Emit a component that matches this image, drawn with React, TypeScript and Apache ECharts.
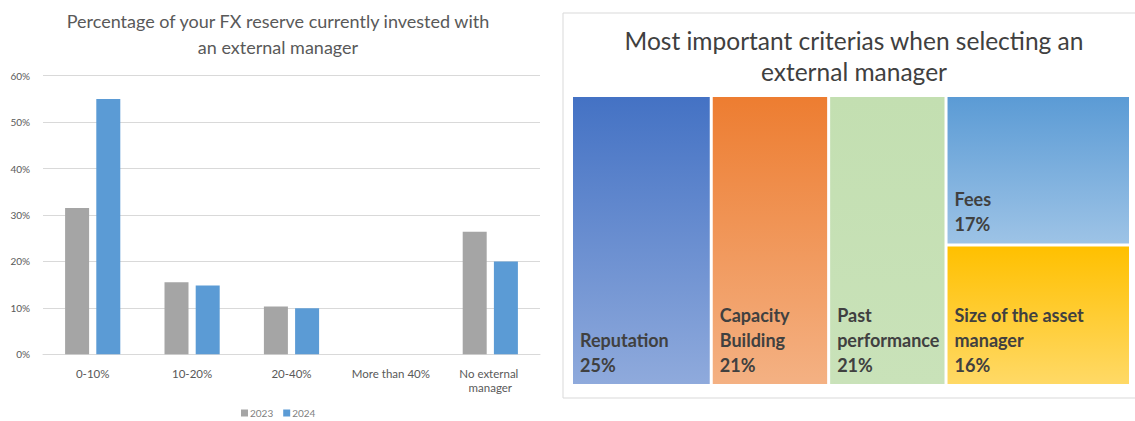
import React, { useEffect, useRef } from "react";
import * as echarts from "echarts";

const barCategories = ["0-10%", "10-20%", "20-40%", "More than 40%", "No external manager"];
const values2023 = [31.5, 15.5, 10.3, 0, 26.4];
const values2024 = [55, 14.8, 9.9, 0, 20];
const yTicks = [0, 10, 20, 30, 40, 50, 60];

const criteriaNames = ["Reputation", "Capacity Building", "Past performance", "Fees", "Size of the asset manager"];
const criteriaValues = [25, 21, 21, 17, 16];
const criteriaColors: [string, string][] = [
  ["#4472C4", "#8FAADC"],
  ["#ED7D31", "#F4B183"],
  ["#C3DFB1", "#C9E2B9"],
  ["#5B9BD5", "#9DC3E6"],
  ["#FFC000", "#FFD966"],
];

const FONT = "Lato, 'Open Sans', sans-serif";

export default function App() {
  const ref = useRef<HTMLDivElement>(null);
  useEffect(() => {
    if (!ref.current) return;
    const chart = echarts.init(ref.current, undefined, { renderer: "svg" });
    const treeData = criteriaNames.map((n, i) => ({
      name: n,
      value: criteriaValues[i],
      itemStyle: {
        color: new echarts.graphic.LinearGradient(0, 0, 0, 1, [
          { offset: 0, color: criteriaColors[i][0] },
          { offset: 1, color: criteriaColors[i][1] },
        ]),
      },
    }));
    chart.setOption({
      animation: false,
      textStyle: { fontFamily: FONT },
      title: [
        {
          text: "Percentage of your FX reserve currently invested with\nan external manager",
          left: 273,
          top: 3,
          textAlign: "center",
          textStyle: { fontFamily: FONT, fontSize: 18, fontWeight: "normal", color: "#595959", lineHeight: 26 },
        },
        {
          text: "Most important criterias when selecting an\nexternal manager",
          left: 849,
          top: 20,
          textAlign: "center",
          textStyle: { fontFamily: FONT, fontSize: 24.5, fontWeight: "normal", color: "#404040", lineHeight: 31 },
        },
      ],
      legend: {
        bottom: -2,
        left: 236,
        itemWidth: 7,
        itemHeight: 7,
        itemGap: 10,
        icon: "rect",
        textStyle: { fontFamily: FONT, fontSize: 10, color: "#7f7f7f", padding: [0, 0, 0, -3] },
        data: ["2023", "2024"],
      },
      graphic: [
        {
          type: "rect",
          shape: { x: 563, y: 13, width: 600, height: 385 },
          style: { fill: "none", stroke: "#D9D9D9", lineWidth: 1 },
          silent: true,
        },
      ],
      grid: { left: 43, top: 75.7, width: 497, height: 278.6, containLabel: false },
      xAxis: {
        type: "category",
        data: barCategories,
        axisLine: { show: true, lineStyle: { color: "#D9D9D9" } },
        axisTick: { show: false },
        axisLabel: {
          interval: 0,
          fontFamily: FONT,
          fontSize: 11.5,
          color: "#595959",
          margin: 12,
          width: 90,
          overflow: "break",
          lineHeight: 14,
        },
      },
      yAxis: {
        type: "value",
        min: 0,
        max: 60,
        interval: 10,
        axisLine: { show: false },
        axisTick: { show: false },
        splitLine: { lineStyle: { color: "#D9D9D9" } },
        axisLabel: {
          fontFamily: FONT,
          fontSize: 10,
          color: "#595959",
          margin: 13,
          formatter: (v: number) => (yTicks.includes(v) ? v + "%" : ""),
        },
      },
      series: [
        {
          name: "2023",
          type: "bar",
          data: values2023,
          barWidth: 24,
          barGap: "30%",
          itemStyle: { color: "#A5A5A5" },
        },
        {
          name: "2024",
          type: "bar",
          data: values2024,
          barWidth: 24,
          barGap: "30%",
          itemStyle: { color: "#5B9BD5" },
        },
        {
          type: "treemap",
          left: 573,
          top: 97,
          right: 6,
          bottom: 37,
          roam: false,
          nodeClick: false,
          sort: false,
          squareRatio: 0.01,
          breadcrumb: { show: false },
          itemStyle: { borderWidth: 0, gapWidth: 3, borderColor: "#fff" },
          levels: [{ itemStyle: { borderWidth: 0, gapWidth: 3, borderColor: "#fff" } }],
          label: {
            show: true,
            position: "insideBottomLeft",
            distance: 2,
            fontFamily: FONT,
            fontSize: 18,
            fontWeight: "bold",
            color: "#404040",
            lineHeight: 25,
            overflow: "break",
            formatter: (p: any) => p.name + "\n" + p.value + "%",
          },
          data: treeData,
        },
      ],
    });
    return () => chart.dispose();
  }, []);
  return <div ref={ref} style={{ position: "fixed", left: 0, top: 0, width: 1135, height: 421, background: "#fff" }} />;
}
